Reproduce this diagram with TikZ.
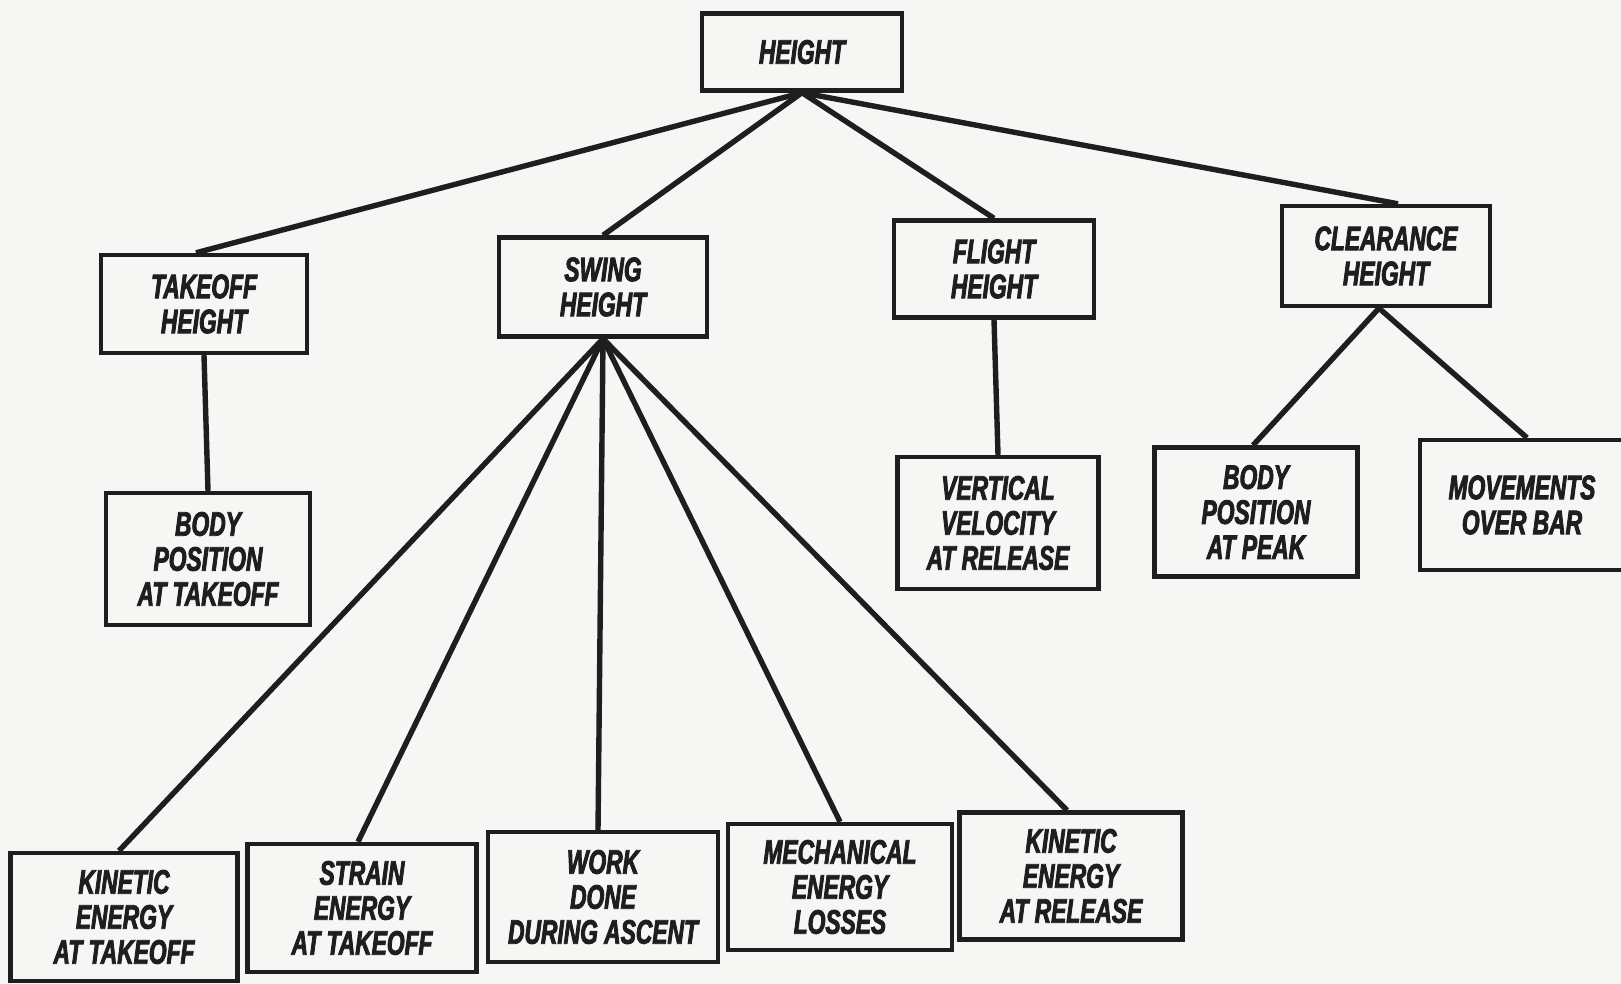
\documentclass[tikz,border=0pt]{standalone}
\usepackage{fontspec}
\newfontfamily\lab{Liberation Sans Bold Italic}[FakeStretch=0.67, FakeBold=2.4]
\definecolor{bg}{HTML}{F6F6F4}
\definecolor{ink}{HTML}{1E1E1E}
\tikzset{
  box/.style={draw=ink, line width=4.4pt, fill=bg, inner sep=0pt, align=center,
    text=ink, font=\lab\fontsize{34}{35}\selectfont},
  link/.style={draw=ink, line width=5.4pt}
}
\begin{document}
\begin{tikzpicture}[x=1pt,y=-1pt]
\useasboundingbox (0,0) rectangle (1621,984);
\fill[bg] (0,0) rectangle (1621,984);
% top level
\node[box, minimum width=200pt, minimum height=77pt] (h) at (802,52) {HEIGHT};
% second level
\node[box, minimum width=206pt, minimum height=98pt] (th) at (204,304) {TAKEOFF\\HEIGHT};
\node[box, minimum width=208pt, minimum height=99pt] (sh) at (603,287) {SWING\\HEIGHT};
\node[box, minimum width=200pt, minimum height=97pt] (fh) at (994,269) {FLIGHT\\HEIGHT};
\node[box, minimum width=208pt, minimum height=100pt] (ch) at (1386,256) {CLEARANCE\\HEIGHT};
% third level
\node[box, minimum width=204pt, minimum height=132pt] (bpt) at (208,559) {BODY\\POSITION\\AT TAKEOFF};
\node[box, minimum width=201pt, minimum height=132pt] (vv) at (998,523) {VERTICAL\\VELOCITY\\AT RELEASE};
\node[box, minimum width=203pt, minimum height=129pt] (bpp) at (1256,512) {BODY\\POSITION\\AT PEAK};
\node[box, minimum width=204pt, minimum height=130pt] (mob) at (1522,505) {MOVEMENTS\\OVER BAR};
% bottom level
\node[box, minimum width=227pt, minimum height=128pt] (ket) at (124,917) {KINETIC\\ENERGY\\AT TAKEOFF};
\node[box, minimum width=229pt, minimum height=128pt] (set) at (362,908) {STRAIN\\ENERGY\\AT TAKEOFF};
\node[box, minimum width=230pt, minimum height=130pt] (wd) at (603,897) {WORK\\DONE\\DURING ASCENT};
\node[box, minimum width=224pt, minimum height=126pt] (mel) at (840,887) {MECHANICAL\\ENERGY\\LOSSES};
\node[box, minimum width=223pt, minimum height=127pt] (ker) at (1071,876) {KINETIC\\ENERGY\\AT RELEASE};
% connectors
\draw[link] (h.south) -- ([xshift=-8pt]th.north);
\draw[link] (h.south) -- (sh.north);
\draw[link] (h.south) -- (fh.north);
\draw[link] (h.south) -- ([xshift=12pt]ch.north);
\draw[link] (th.south) -- (bpt.north);
\draw[link] (fh.south) -- (vv.north);
\draw[link] ([xshift=-7pt]ch.south) -- ([xshift=-3pt]bpp.north);
\draw[link] ([xshift=-7pt]ch.south) -- ([xshift=5pt]mob.north);
\draw[link] (sh.south) -- ([xshift=-5pt]ket.north);
\draw[link] (sh.south) -- ([xshift=-4pt]set.north);
\draw[link] (sh.south) -- ([xshift=-5pt]wd.north);
\draw[link] (sh.south) -- (mel.north);
\draw[link] (sh.south) -- ([xshift=-4pt]ker.north);
\end{tikzpicture}
\end{document}
